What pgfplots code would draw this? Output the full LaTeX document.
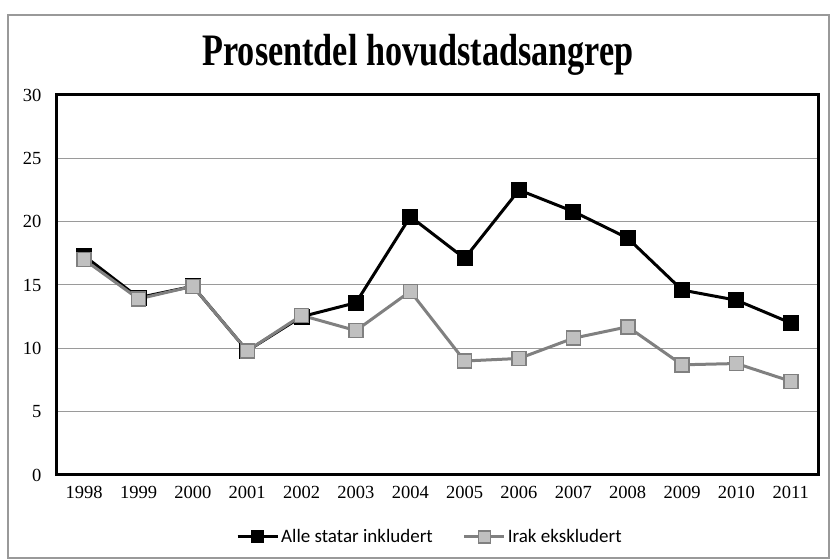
\documentclass[border=0pt]{standalone}
\usepackage{pgfplots}
\pgfplotsset{compat=1.18}
\usepackage{fontspec}
\setmainfont{Liberation Serif}
\newfontfamily\legendfont{Carlito}
\definecolor{gline}{HTML}{808080}
\definecolor{gfill}{HTML}{C0C0C0}
\definecolor{gridc}{HTML}{9A9A9A}
\begin{document}
\begin{tikzpicture}[x=1pt,y=1pt]
\useasboundingbox (0,0) rectangle (831,560);
\draw[color=gline!80, line width=1.6pt] (8,2) rectangle (829,545);
\node[font=\fontsize{45}{50}\selectfont\bfseries] at (418,505) {\scalebox{0.76}[1]{Prosentdel hovudstadsangrep}};
\begin{axis}[
  at={(57pt,85pt)}, anchor=south west,
  scale only axis, width=761pt, height=380pt,
  xmin=1997.5, xmax=2011.5, ymin=0, ymax=30,
  xtick={1998,...,2011}, ytick={0,5,...,30},
  xticklabel style={/pgf/number format/1000 sep=},
  /pgf/number format/assume math mode=true,
  tick label style={font=\fontsize{18.5}{20}\selectfont},
  major tick length=0pt,
  xtick style={draw=none}, ytick style={draw=none},
  yticklabel style={xshift=-12pt},
  xticklabel style={yshift=-8pt},
  ymajorgrids, grid style={gridc, line width=1pt},
  axis line style={black, line width=3pt},
  legend columns=2,
  legend style={at={(0.49,-0.163)}, anchor=center, draw=none, fill=none,
    font=\legendfont\fontsize{19}{21}\selectfont,
    /tikz/every even column/.append style={column sep=28pt}},
  legend image code/.code={
    \draw[#1, mark=none] (0pt,0pt) -- (40pt,0pt);
    \draw[#1, mark size=6pt] plot coordinates {(20pt,0pt)};
  },
]
\addplot[black, line width=3pt, mark=square*, mark size=7.5pt,
  mark options={fill=black, draw=black, line width=1pt}]
  coordinates {(1998,17.3)(1999,14.0)(2000,14.9)(2001,9.8)(2002,12.5)(2003,13.6)(2004,20.4)(2005,17.1)(2006,22.5)(2007,20.8)(2008,18.7)(2009,14.6)(2010,13.8)(2011,12.0)};
\addlegendentry{Alle statar inkludert}
\addplot[gline, line width=3pt, mark=square*, mark size=7pt,
  mark options={fill=gfill, draw=gline, line width=1.5pt}]
  coordinates {(1998,17.0)(1999,13.9)(2000,14.9)(2001,9.8)(2002,12.6)(2003,11.4)(2004,14.5)(2005,9.0)(2006,9.2)(2007,10.8)(2008,11.7)(2009,8.7)(2010,8.8)(2011,7.4)};
\addlegendentry{Irak ekskludert}
\end{axis}
\end{tikzpicture}
\end{document}
